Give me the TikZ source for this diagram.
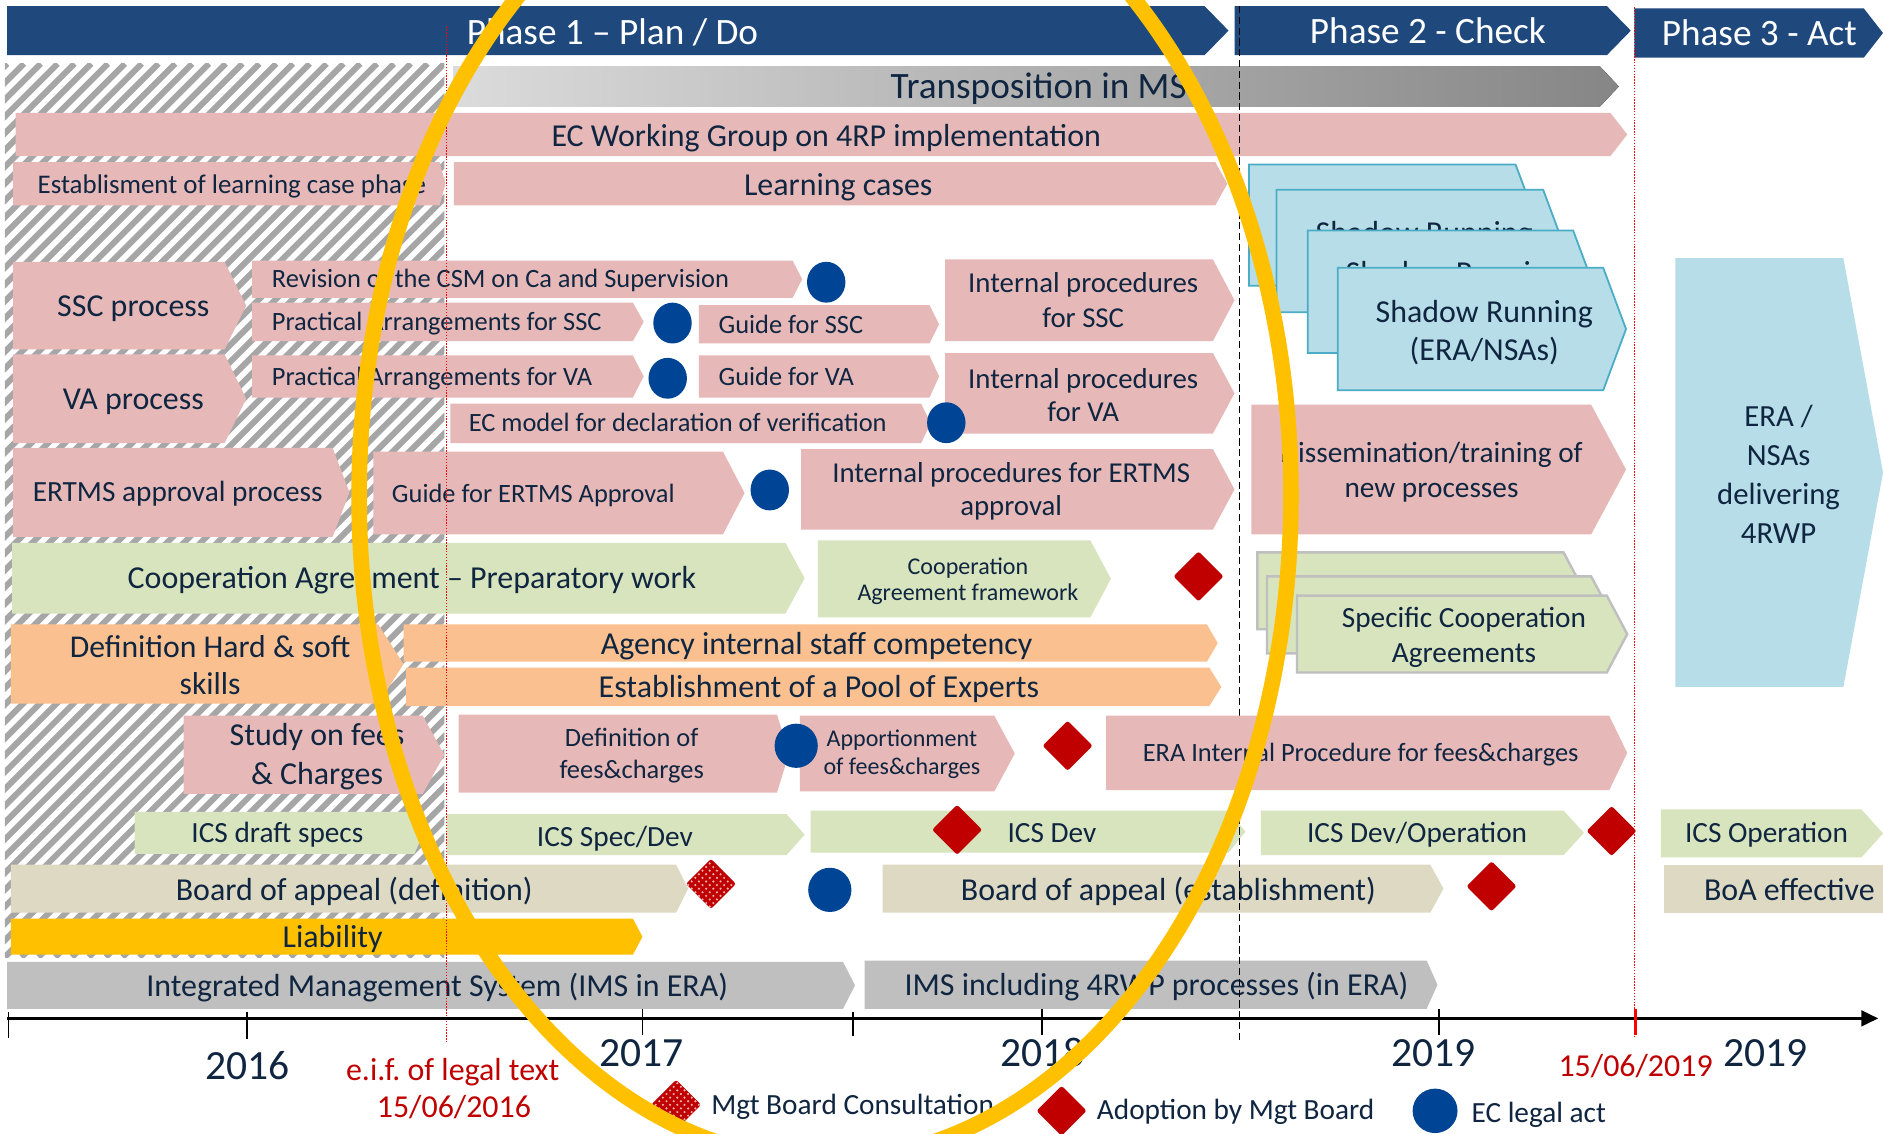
\documentclass[tikz,border=0pt]{standalone}
\usepackage{fontspec}
\setmainfont{Carlito}
\frenchspacing
\usetikzlibrary{shapes.geometric,patterns,arrows.meta}
\definecolor{navy}{HTML}{1F497D}
\definecolor{pinkc}{HTML}{E6B9B8}
\definecolor{greenc}{HTML}{D7E4BD}
\definecolor{orangec}{HTML}{FAC090}
\definecolor{beigec}{HTML}{DDD9C3}
\definecolor{grayc}{HTML}{BFBFBF}
\definecolor{lblue}{HTML}{B7DEE8}
\definecolor{bluebd}{HTML}{4BACC6}
\definecolor{dblue}{HTML}{004595}
\definecolor{dred}{HTML}{C00000}
\definecolor{yel}{HTML}{FFC000}
\definecolor{txtc}{HTML}{0F2540}
\definecolor{hatchc}{HTML}{A6A6A6}
\newcommand\hp[6]{\fill[#6] (#1,#2) -- (#3,#2) -- ({#3+#5},{(#2+#4)/2}) -- (#3,#4) -- (#1,#4) -- cycle;}
\tikzset{
 tx/.style={text=txtc, inner sep=0pt, align=center},
 one13/.style={tx, font=\fontsize{13.3}{16}\selectfont, text height=10.7pt, text depth=2pt},
 one12/.style={tx, font=\fontsize{12.2}{14.5}\selectfont, text height=9.6pt, text depth=1.8pt},
 one11/.style={tx, font=\fontsize{11}{13.5}\selectfont, text height=9pt, text depth=1.65pt},
 one15/.style={tx, font=\fontsize{15.5}{18}\selectfont, text height=12.4pt, text depth=2.3pt},
 ph/.style={one15, text=white},
 yr/.style={tx, font=\fontsize{17.3}{20}\selectfont, text height=11.1pt, text depth=0pt},
 redt/.style={one13, text=dred},
 bigbox/.style={fill=lblue, draw=bluebd, line width=0.75pt},
 grbox/.style={fill=greenc, draw=grayc, line width=1pt},
 dia/.style={diamond, fill=dred, inner sep=0pt, minimum width=21pt, minimum height=21pt, rounded corners=1pt},
 dotdia/.style={dia, postaction={pattern=crosshatch dots, pattern color=white!70!dred}},
 ecs/.style={ellipse, fill=dblue, inner sep=0pt, minimum width=16pt, minimum height=17pt},
 ecb/.style={ellipse, fill=dblue, inner sep=0pt, minimum width=18pt, minimum height=18.4pt},
}
\begin{document}
\begin{tikzpicture}[x=0.5pt,y=-0.5pt]
\useasboundingbox (0,0) rectangle (1568,944);
\clip (0,0) rectangle (1568,944);
\fill[white] (0,0) rectangle (1568,944);
% hatched area
\begin{scope}
\clip (4,53) rectangle (370,797);
\foreach \i in {-54,...,27} {\draw[hatchc,line width=2.5pt] ({4+\i*14},797) -- ++(744,-744);}
\end{scope}
% phases
\hp{6}{5}{1003}{46}{20}{navy}
\node[ph] (p1) at (510,27) {Phase 1 – Plan / Do};
\hp{1028}{5}{1338}{46}{20}{navy}
\node[ph] (p2) at (1189,26) {Phase 2 - Check};
\hp{1361}{7}{1552}{48}{16}{navy}
\node[ph] (p3) at (1465,28) {Phase 3 - Act};
% transposition
\hp{378}{55}{1332}{89}{16}{left color=gray!28, right color=gray!95}
\node[one15] (tr) at (865,72) {Transposition in MS};
\hp{13}{94}{1341}{130}{14}{pinkc}
\node[one13] (ecwg) at (688,113) {EC Working Group on 4RP implementation};
\hp{11}{135}{366}{171}{5}{pinkc}
\node[one11, anchor=west, font=\fontsize{11.2}{13.5}\selectfont] (elc) at (31,154) {Establisment of learning case phase};
\hp{378}{135}{1012}{171}{10}{pinkc}
\node[one13] (lc) at (698,154) {Learning cases};
% shadow running stack
\hp{1040}{137}{1262}{238}{19}{bigbox}
\hp{1063}{158}{1285}{260}{19}{bigbox}
\node[tx, font=\fontsize{13.3}{16}\selectfont] (sr2) at (1186,211) {Shadow Running\\(ERA/NSAs)};
\hp{1089}{192}{1310}{294}{19}{bigbox}
\node[tx, font=\fontsize{13.3}{16}\selectfont] (sr3) at (1211,245) {Shadow Running\\(ERA/NSAs)};
\hp{1114}{223}{1335}{325}{19}{bigbox}
\node[tx, font=\fontsize{13.3}{16}\selectfont] (sr4) at (1236,277) {Shadow Running\\(ERA/NSAs)};
% ERA / NSAs
\hp{1395}{215}{1535}{572}{33}{lblue}
\node[tx, font=\fontsize{12.8}{16.2}\selectfont] (era) at (1481,395) {ERA /\\NSAs\\delivering\\4RWP};
% SSC
\hp{11}{218}{187}{291}{18}{pinkc}
\node[one13] (ssc) at (111,255) {SSC process};
\hp{210}{217}{660}{248}{8}{pinkc}
\node[one11, anchor=west] (rev) at (226,232) {Revision of the CSM on Ca and Supervision};
\hp{210}{252}{527}{284}{9}{pinkc}
\node[one11, anchor=west] (pas) at (226,268) {Practical Arrangements for SSC};
\hp{582}{254}{774}{286}{8}{pinkc}
\node[one11, anchor=west] (gssc) at (598,270) {Guide for SSC};
\hp{787}{216}{1010}{284}{18}{pinkc}
\node[tx, font=\fontsize{12}{14.5}\selectfont] (ipssc) at (902,250) {Internal procedures\\for SSC};
% VA
\hp{11}{295}{187}{369}{18}{pinkc}
\node[one13] (va) at (111,332) {VA process};
\hp{210}{296}{527}{331}{9}{pinkc}
\node[one11, anchor=west] (pava) at (226,314) {Practical Arrangements for VA};
\hp{582}{296}{774}{331}{8}{pinkc}
\node[one11, anchor=west] (gva) at (598,314) {Guide for VA};
\hp{787}{294}{1010}{361}{18}{pinkc}
\node[tx, font=\fontsize{12}{14}\selectfont] (ipva) at (902,329) {Internal procedures\\for VA};
\hp{375}{336}{767}{369}{8}{pinkc}
\node[one11, anchor=west] (ecm) at (390,352) {EC model for declaration of verification};
% ERTMS
\hp{11}{373}{277}{447}{14}{pinkc}
\node[one12] (ert) at (148,410) {ERTMS approval process};
\hp{311}{376}{602}{445}{18}{pinkc}
\node[one11, anchor=west] (gert) at (326,411) {Guide for ERTMS Approval};
\hp{667}{374}{1010}{441}{18}{pinkc}
\node[tx, font=\fontsize{12}{14}\selectfont] (iperts) at (842,409) {Internal procedures for ERTMS\\approval};
\hp{1042}{337}{1325}{445}{29}{pinkc}
\node[tx, font=\fontsize{12.2}{14.5}\selectfont] (dis) at (1192,393) {Dissemination/training of\\new processes};
% circles row SSC/VA/ERTMS
\node[ecs] (c1) at (688,235) {};
\node[ecs] (c2) at (560,269) {};
\node[ecs] (c3) at (556,315) {};
\node[ecs] (c4) at (788,352) {};
\node[ecs] (c5) at (641,408) {};
% cooperation
\hp{10}{452}{654}{511}{16}{greenc}
\node[one13] (cap) at (343,481) {Cooperation Agreement – Preparatory work};
\hp{681}{450}{908}{514}{17}{greenc}
\node[tx, font=\fontsize{10}{11}\selectfont] (caf) at (806,484) {Cooperation\\Agreement framework};
\node[dia] (d1) at (998,480) {};
\hp{1047}{460}{1302}{524}{17}{grbox}
\hp{1055}{480}{1325}{544}{17}{grbox}
\hp{1080}{496}{1338}{560}{17}{grbox}
\node[tx, font=\fontsize{12.2}{14.5}\selectfont] (sca) at (1219,531) {Specific Cooperation\\Agreements};
% competency
\hp{9}{520}{315}{586}{21}{orangec}
\node[tx, font=\fontsize{13.2}{15.5}\selectfont] (dhs) at (175,554) {Definition Hard \& soft\\skills};
\hp{336}{520}{1005}{551}{9}{orangec}
\node[one13] (ais) at (680,536) {Agency internal staff competency};
\hp{338}{556}{1007}{588}{10}{orangec}
\node[one13] (pool) at (682,572) {Establishment of a Pool of Experts};
% fees
\hp{153}{596}{352}{661}{18}{pinkc}
\node[tx, font=\fontsize{13.3}{16}\selectfont] (sfc) at (264,630) {Study on fees\\\& Charges};
\hp{382}{595}{647}{660}{10}{pinkc}
\node[tx, font=\fontsize{11}{13.5}\selectfont] (dfc) at (526,629) {Definition of\\fees\&charges};
\hp{666}{596}{828}{659}{17}{pinkc}
\node[tx, font=\fontsize{10}{12}\selectfont] (afc) at (751,628) {Apportionment\\of fees\&charges};
\node[ecb] (c6) at (663,621) {};
\node[dia] (d2) at (889,621) {};
% ICS
\hp{112}{676}{345}{711}{8}{greenc}
\node[one12] (icsd) at (231,694) {ICS draft specs};
\hp{372}{678}{655}{712}{15}{greenc}
\node[one12] (icss) at (512,697) {ICS Spec/Dev};
\hp{675}{675}{1023}{710}{14}{greenc}
\node[one12] (icsv) at (876,694) {ICS Dev};
\node[dia] (d3) at (797,691) {};
\hp{1050}{675}{1302}{712}{17}{greenc}
\node[one12] (icso) at (1180,694) {ICS Dev/Operation};
\node[dia] (d4) at (1342,692) {};
\hp{1383}{674}{1550}{714}{18}{greenc}
\node[one12] (icsop) at (1471,694) {ICS Operation};
% board of appeal
\hp{9}{720}{563}{760}{10}{beigec}
\node[one13] (boad) at (295,741) {Board of appeal (definition)};
\node[dotdia] (d5) at (592,736) {};
\node[ecb] (c7) at (691,741) {};
\hp{735}{720}{1191}{760}{11}{beigec}
\node[one13] (boae) at (973,741) {Board of appeal (establishment)};
\node[dia] (d6) at (1242,738) {};
\fill[beigec] (1386,720) rectangle (1568,760);
\node[one13] (boaf) at (1490,741) {BoA effective};
% liability
\hp{9}{765}{527}{795}{8}{yel}
\node[one13] (lia) at (277,780) {Liability};
% IMS
\hp{6}{801}{702}{840}{10}{grayc}
\node[one13] (ims) at (364,821) {Integrated Management System (IMS in ERA)};
\hp{720}{800}{1188}{840}{9}{grayc}
\node[one13] (ims2) at (963,820) {IMS including 4RWP processes (in ERA)};
% vertical lines
\coordinate (dt) at (1032,5); \coordinate (db) at (1032,866);
\draw[black, line width=0.6pt, dash pattern=on 3pt off 1.5pt] (dt) -- (db);
\coordinate (r1t) at (372,22); \coordinate (r1b) at (372,868);
\coordinate (r2t) at (1361,6); \coordinate (r2b) at (1361,863);
\draw[red, line width=0.6pt, dash pattern=on 0.6pt off 0.6pt] (r1t) -- (r1b);
\draw[red, line width=0.6pt, dash pattern=on 0.6pt off 0.6pt] (r2t) -- (r2b);
% ERA internal procedure box (hides dashed line)
\hp{921}{596}{1340}{658}{15}{pinkc}
\node[one11] (eraf) at (1133,627) {ERA Internal Procedure for fees\&charges};
% axis
\coordinate (ax0) at (6,848); \coordinate (ax1) at (1564,848);
\draw[line width=1.2pt, -{Triangle[length=7pt,width=6.5pt]}] (ax0) -- (ax1);
\foreach \x/\a/\b in {7/843/864, 206/843/865, 535/840/862, 710/843/863, 868/840/862, 1198/840/862}
  \draw[line width=0.75pt] (\x,\a) -- (\x,\b);
\draw[red, line width=1pt] (1362,840) -- (1362,862);
\node[yr] (y16) at (206,888) {2016};
\node[yr] (y17) at (534,877) {2017};
\node[yr] (y18) at (868,877) {2018};
\node[yr] (y19) at (1194,877) {2019};
\node[yr] (y19b) at (1470,877) {2019};
\node[redt] (eif) at (377,891) {e.i.f. of legal text};
\node[redt] (d2016) at (378,922) {15/06/2016};
\node[redt] (d2019) at (1362,888) {15/06/2019};
% legend
\node[dotdia] (ld1) at (563,920) {};
\node[one12, anchor=west] (lt1) at (592,920) {Mgt Board Consultation};
\node[dia] (ld2) at (884,925) {};
\node[one12, anchor=west] (lt2) at (913,924) {Adoption by Mgt Board};
\node[ecb, minimum width=18.7pt, minimum height=18.5pt] (lc3) at (1195,925) {};
\node[one12, anchor=west] (lt3) at (1225,927) {EC legal act};
% yellow ellipse
\draw[yel, line width=6.5pt] (687,413) ellipse [x radius=194pt, y radius=276.5pt];
\end{tikzpicture}
\end{document}
